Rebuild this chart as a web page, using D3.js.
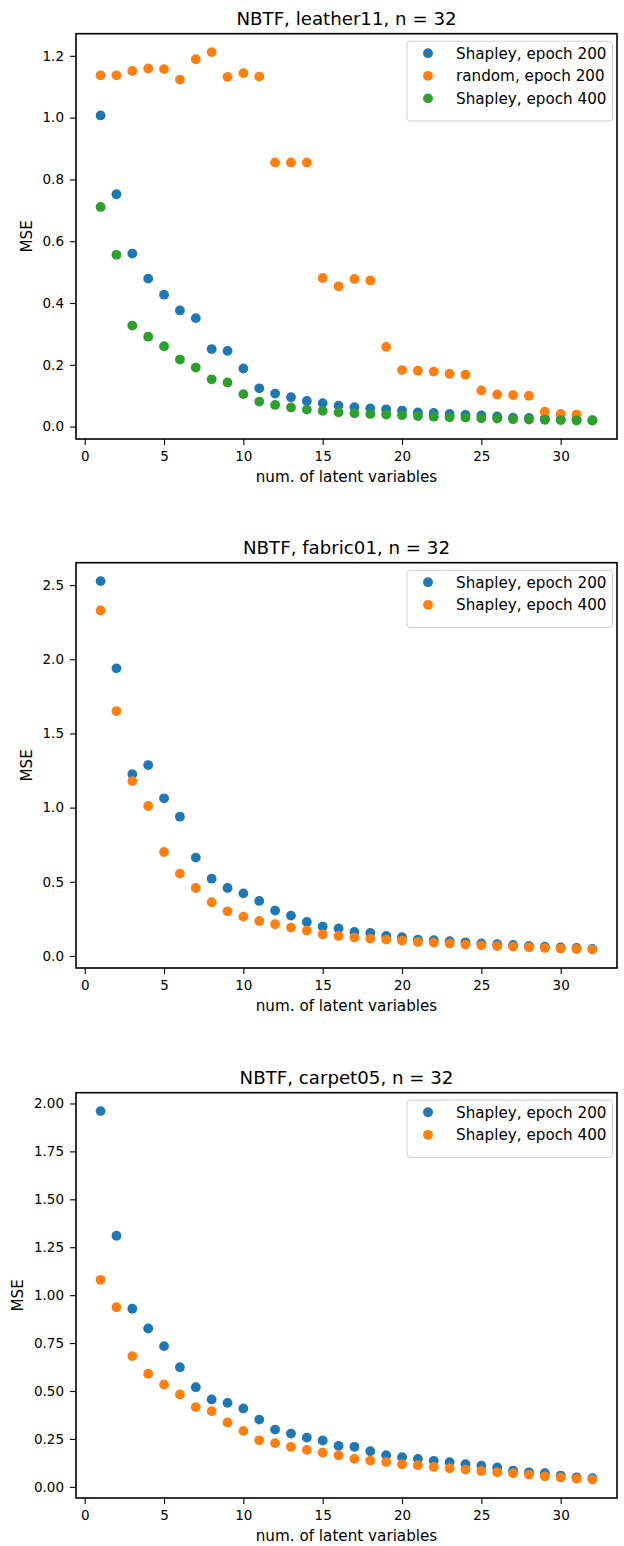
<!DOCTYPE html>
<html>
<head>
<meta charset="utf-8">
<script src="https://cdn.jsdelivr.net/npm/d3@7"></script>
<style>
  body { margin: 0; background: #fff; }
  svg text { font-family: "DejaVu Sans", sans-serif; fill: #000; }
</style>
</head>
<body>
<div class="plots"></div>
<script>
// x values: number of latent variables
const latent = d3.range(1, 33);

// leather11
const leatherShapley200 = [1.007, 0.752, 0.560, 0.479, 0.427, 0.376, 0.351, 0.251, 0.245, 0.188,
  0.124, 0.107, 0.095, 0.083, 0.076, 0.068, 0.063, 0.059, 0.056, 0.052,
  0.046, 0.044, 0.041, 0.038, 0.036, 0.033, 0.029, 0.028, 0.026, 0.024, 0.023, 0.021];
const leatherRandom200 = [1.137, 1.137, 1.151, 1.159, 1.157, 1.123, 1.189, 1.212, 1.132, 1.144,
  1.133, 0.855, 0.855, 0.855, 0.481, 0.454, 0.478, 0.473, 0.258, 0.183,
  0.181, 0.178, 0.171, 0.168, 0.117, 0.104, 0.102, 0.100, 0.048, 0.041, 0.039, 0.020];
const leatherShapley400 = [0.711, 0.556, 0.327, 0.291, 0.260, 0.217, 0.191, 0.153, 0.143, 0.105,
  0.081, 0.070, 0.062, 0.055, 0.051, 0.046, 0.043, 0.041, 0.039, 0.037,
  0.034, 0.032, 0.030, 0.029, 0.027, 0.026, 0.024, 0.023, 0.022, 0.021, 0.020, 0.0195];

// fabric01
const fabricShapley200 = [2.527, 1.939, 1.226, 1.287, 1.063, 0.939, 0.663, 0.521, 0.458, 0.422,
  0.371, 0.306, 0.272, 0.229, 0.198, 0.185, 0.162, 0.155, 0.135, 0.126,
  0.110, 0.106, 0.099, 0.092, 0.085, 0.079, 0.074, 0.067, 0.063, 0.057, 0.054, 0.047];
const fabricShapley400 = [2.329, 1.651, 1.179, 1.011, 0.701, 0.555, 0.458, 0.362, 0.301, 0.265,
  0.236, 0.214, 0.191, 0.171, 0.146, 0.135, 0.124, 0.117, 0.110, 0.104,
  0.094, 0.090, 0.084, 0.077, 0.072, 0.067, 0.063, 0.059, 0.054, 0.050, 0.047, 0.043];

// carpet05
const carpetShapley200 = [1.960, 1.310, 0.929, 0.826, 0.734, 0.624, 0.520, 0.456, 0.438, 0.409,
  0.351, 0.299, 0.278, 0.257, 0.242, 0.214, 0.209, 0.186, 0.165, 0.155,
  0.146, 0.136, 0.129, 0.118, 0.110, 0.101, 0.085, 0.076, 0.071, 0.059, 0.050, 0.045];
const carpetShapley400 = [1.080, 0.937, 0.682, 0.590, 0.534, 0.482, 0.416, 0.395, 0.336, 0.292,
  0.243, 0.228, 0.209, 0.193, 0.179, 0.165, 0.146, 0.137, 0.130, 0.118,
  0.113, 0.104, 0.097, 0.090, 0.083, 0.076, 0.071, 0.064, 0.055, 0.049, 0.043, 0.038];

const titles = ["NBTF, leather11, n = 32", "NBTF, fabric01, n = 32", "NBTF, carpet05, n = 32"];
const colors = ["#1f77b4", "#ff7f0e", "#2ca02c"];

const panels = [
  { title: titles[0], yTicks: [0, 0.2, 0.4, 0.6, 0.8, 1.0, 1.2], fmt: d3.format(".1f"),
    series: [["Shapley, epoch 200", leatherShapley200], ["random, epoch 200", leatherRandom200], ["Shapley, epoch 400", leatherShapley400]] },
  { title: titles[1], yTicks: [0, 0.5, 1.0, 1.5, 2.0, 2.5], fmt: d3.format(".1f"),
    series: [["Shapley, epoch 200", fabricShapley200], ["Shapley, epoch 400", fabricShapley400]] },
  { title: titles[2], yTicks: [0, 0.25, 0.5, 0.75, 1.0, 1.25, 1.5, 1.75, 2.0], fmt: d3.format(".2f"),
    series: [["Shapley, epoch 200", carpetShapley200], ["Shapley, epoch 400", carpetShapley400]] }
];

const width = 624, height = 1546;
const left = 76, right = 617;
const tops = [33.7, 562.7, 1092.7];
const panelH = 405.3;

const svg = d3.select('.plots')
  .append('svg')
  .attr('width', width)
  .attr('height', height);

// matplotlib style 5% margins
function padded(lo, hi){
  const m = (hi - lo) * 0.05;
  return [lo - m, hi + m];
}

const xDom = padded(d3.min(latent), d3.max(latent));
const x = d3.scaleLinear().domain(xDom).range([left, right]);

panels.forEach(function(p, i){
  const top = tops[i], bottom = top + panelH;
  const all = p.series.flatMap(s => s[1]);
  const y = d3.scaleLinear().domain(padded(d3.min(all), d3.max(all))).range([bottom, top]);

  const g = svg.append('g');

  // points
  p.series.forEach(function(s, k){
    g.append('g').selectAll('circle')
      .data(latent)
      .enter()
      .append('circle')
      .attr('cx', d => x(d))
      .attr('cy', (d, j) => y(s[1][j]))
      .attr('r', 4.9)
      .attr('fill', colors[k]);
  });

  // axes
  const xAxis = g.append('g')
    .attr('transform', 'translate(0,' + bottom + ')')
    .call(d3.axisBottom(x).tickValues([0, 5, 10, 15, 20, 25, 30]).tickSize(6).tickPadding(6).tickFormat(d3.format('d')));
  const yAxis = g.append('g')
    .attr('transform', 'translate(' + left + ',0)')
    .call(d3.axisLeft(y).tickValues(p.yTicks).tickSize(6).tickPadding(6).tickFormat(p.fmt));
  [xAxis, yAxis].forEach(function(a){
    a.select('.domain').remove();
    a.selectAll('line').attr('stroke', '#000').attr('stroke-width', 1.1);
    a.selectAll('text').attr('font-size', '13.5px').attr('fill', '#000');
  });

  // frame
  g.append('rect')
    .attr('x', left).attr('y', top)
    .attr('width', right - left).attr('height', panelH)
    .attr('fill', 'none').attr('stroke', '#000').attr('stroke-width', 1.6);

  // title and labels
  g.append('text')
    .attr('x', (left + right) / 2).attr('y', top - 9)
    .attr('text-anchor', 'middle').attr('font-size', '18.2px')
    .text(p.title);
  g.append('text')
    .attr('x', (left + right) / 2).attr('y', bottom + 43)
    .attr('text-anchor', 'middle').attr('font-size', '15.2px')
    .text('num. of latent variables');
  const ylx = i == 2 ? 17.5 : 26.5;
  g.append('text')
    .attr('transform', 'translate(' + ylx + ',' + ((top + bottom) / 2) + ') rotate(-90)')
    .attr('text-anchor', 'middle').attr('dy', '0.35em').attr('font-size', '15.2px')
    .text('MSE');

  // legend
  const rows = p.series.length;
  const lg = g.append('g').attr('transform', 'translate(407,' + (top + 7.5) + ')');
  lg.append('rect')
    .attr('width', 205.5).attr('height', 12 + rows * 22.6)
    .attr('rx', 3).attr('fill', '#fff').attr('fill-opacity', 0.8)
    .attr('stroke', '#d0d0d0').attr('stroke-width', 1);
  p.series.forEach(function(s, k){
    lg.append('circle')
      .attr('cx', 21).attr('cy', 12 + k * 22.6)
      .attr('r', 4.9).attr('fill', colors[k]);
    lg.append('text')
      .attr('x', 49).attr('y', 12 + k * 22.6).attr('dy', '0.35em')
      .attr('font-size', '15.2px')
      .text(s[0]);
  });
});
</script>
</body>
</html>
